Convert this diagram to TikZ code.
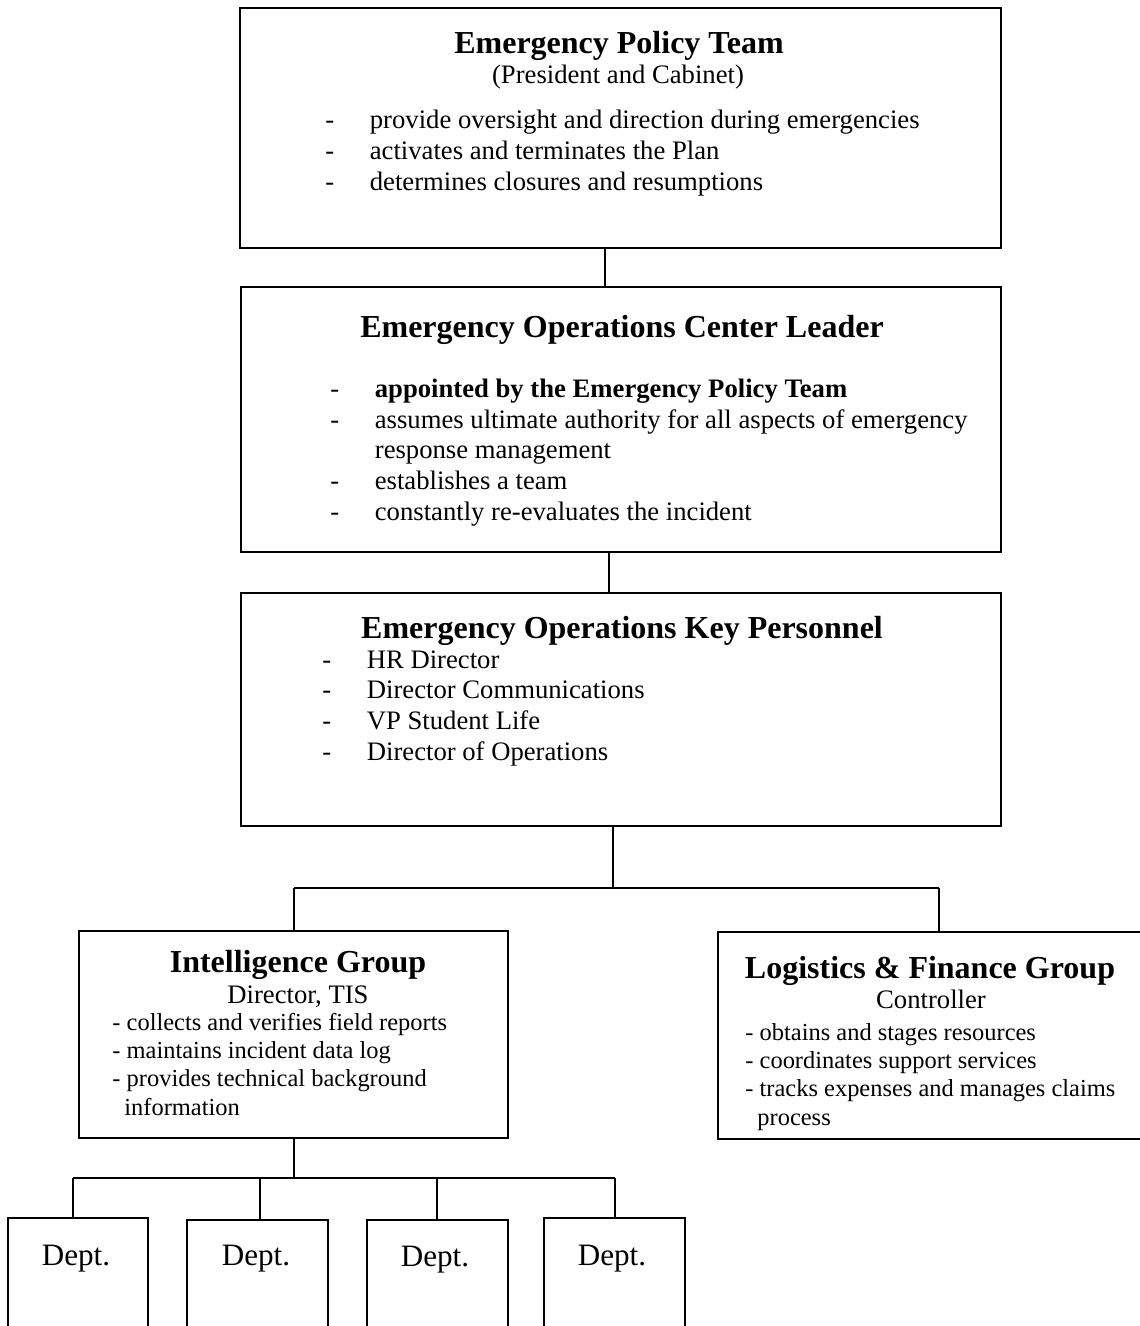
\documentclass[tikz,border=0pt]{standalone}
\usepackage{fontspec}
\setmainfont{Liberation Serif}
\usetikzlibrary{fit}

\newcommand{\tabitem}[1]{\makebox[20pt][l]{-}#1}

\begin{document}
\begin{tikzpicture}[x=0.45pt,y=-0.45pt,
  frame/.style={draw,line width=0.9pt,inner sep=0pt},
  title/.style={anchor=base,inner sep=0pt,font=\fontsize{14.4}{16}\selectfont\bfseries},
  sub/.style={anchor=base,inner sep=0pt,font=\fontsize{12}{13.8}\selectfont},
  body/.style={anchor=base west,inner sep=0pt,align=left,font=\fontsize{12}{13.8}\selectfont},
  small/.style={anchor=base west,inner sep=0pt,align=left,font=\fontsize{11}{12.65}\selectfont},
  dept/.style={anchor=base,inner sep=0pt,font=\fontsize{14}{16}\selectfont}]
\useasboundingbox (0,0) rectangle (1140,1326);

% top level (lists are placed at the baseline of their last line)
\node[frame,fit={(240,8) (1001,248)}] (ept) {};
\node[title] (ept-title) at (619,53) {Emergency Policy Team};
\node[sub] (ept-sub) at (618,83) {(President and Cabinet)};
\node[body] (ept-list) at (325,190) {\tabitem{provide oversight and direction during emergencies}\\
  \tabitem{activates and terminates the Plan}\\
  \tabitem{determines closures and resumptions}};

\node[frame,fit={(241,287) (1001,552)}] (eocl) {};
\node[title] (eocl-title) at (622,337) {Emergency Operations Center Leader};
\node[body] (eocl-list) at (330,520) {\tabitem{\textbf{appointed by the Emergency Policy Team}}\\
  \tabitem{assumes ultimate authority for all aspects of emergency}\\
  \hspace*{20pt}response management\\
  \tabitem{establishes a team}\\
  \tabitem{constantly re-evaluates the incident}};

\node[frame,fit={(241,593) (1001,826)}] (eokp) {};
\node[title] (eokp-title) at (622,638) {Emergency Operations Key Personnel};
\node[body] (eokp-list) at (322,760) {\tabitem{HR Director}\\
  \tabitem{Director Communications}\\
  \tabitem{VP Student Life}\\
  \tabitem{Director of Operations}};

% groups
\node[frame,fit={(79,931) (508,1138)}] (ig) {};
\node[title] (ig-title) at (298,972) {Intelligence Group};
\node[sub] (ig-sub) at (298,1003) {Director, TIS};
\node[small] (ig-list) at (112,1115) {- collects and verifies field reports\\
  - maintains incident data log\\
  - provides technical background\\
  \hspace*{5.4pt}information};

\node[frame,fit={(718,932) (1142,1139)}] (lfg) {};
\node[title] (lfg-title) at (930,978) {Logistics \& Finance Group};
\node[sub] (lfg-sub) at (931,1008) {Controller};
\node[small] (lfg-list) at (745,1125) {- obtains and stages resources\\
  - coordinates support services\\
  - tracks expenses and manages claims\\
  \hspace*{5.4pt}process};

% departments
\node[frame,fit={(8,1218) (148,1345)}] (d1) {};
\node[frame,fit={(187,1220) (328,1345)}] (d2) {};
\node[frame,fit={(367,1220) (508,1345)}] (d3) {};
\node[frame,fit={(544,1218) (685,1345)}] (d4) {};
\node[dept] (d1-text) at (76,1265) {Dept.};
\node[dept] (d2-text) at (256,1265) {Dept.};
\node[dept] (d3-text) at (435,1266) {Dept.};
\node[dept] (d4-text) at (612,1265) {Dept.};

% connectors
\coordinate (j0) at (613,888);
\coordinate (jl) at (294,888);
\coordinate (jr) at (939,888);
\coordinate (k0) at (294,1178);
\coordinate (k1) at (73,1178);
\coordinate (k4) at (615,1178);
\draw[line width=0.9pt] (ept.south -| 605,0) -- (eocl.north -| 605,0);
\draw[line width=0.9pt] (eocl.south -| 609,0) -- (eokp.north -| 609,0);
\draw[line width=0.9pt] (eokp.south -| j0) -- (j0);
\draw[line width=0.9pt] (jl) -- (jr);
\draw[line width=0.9pt] (jl) -- (ig.north -| jl);
\draw[line width=0.9pt] (jr) -- (lfg.north -| jr);
\draw[line width=0.9pt] (ig.south -| k0) -- (k0);
\draw[line width=0.9pt] (k1) -- (k4);
\draw[line width=0.9pt] (k1) -- (d1.north -| k1);
\draw[line width=0.9pt] (k4 -| 260,0) -- (d2.north -| 260,0);
\draw[line width=0.9pt] (k4 -| 437,0) -- (d3.north -| 437,0);
\draw[line width=0.9pt] (k4) -- (d4.north -| k4);
\end{tikzpicture}
\end{document}
